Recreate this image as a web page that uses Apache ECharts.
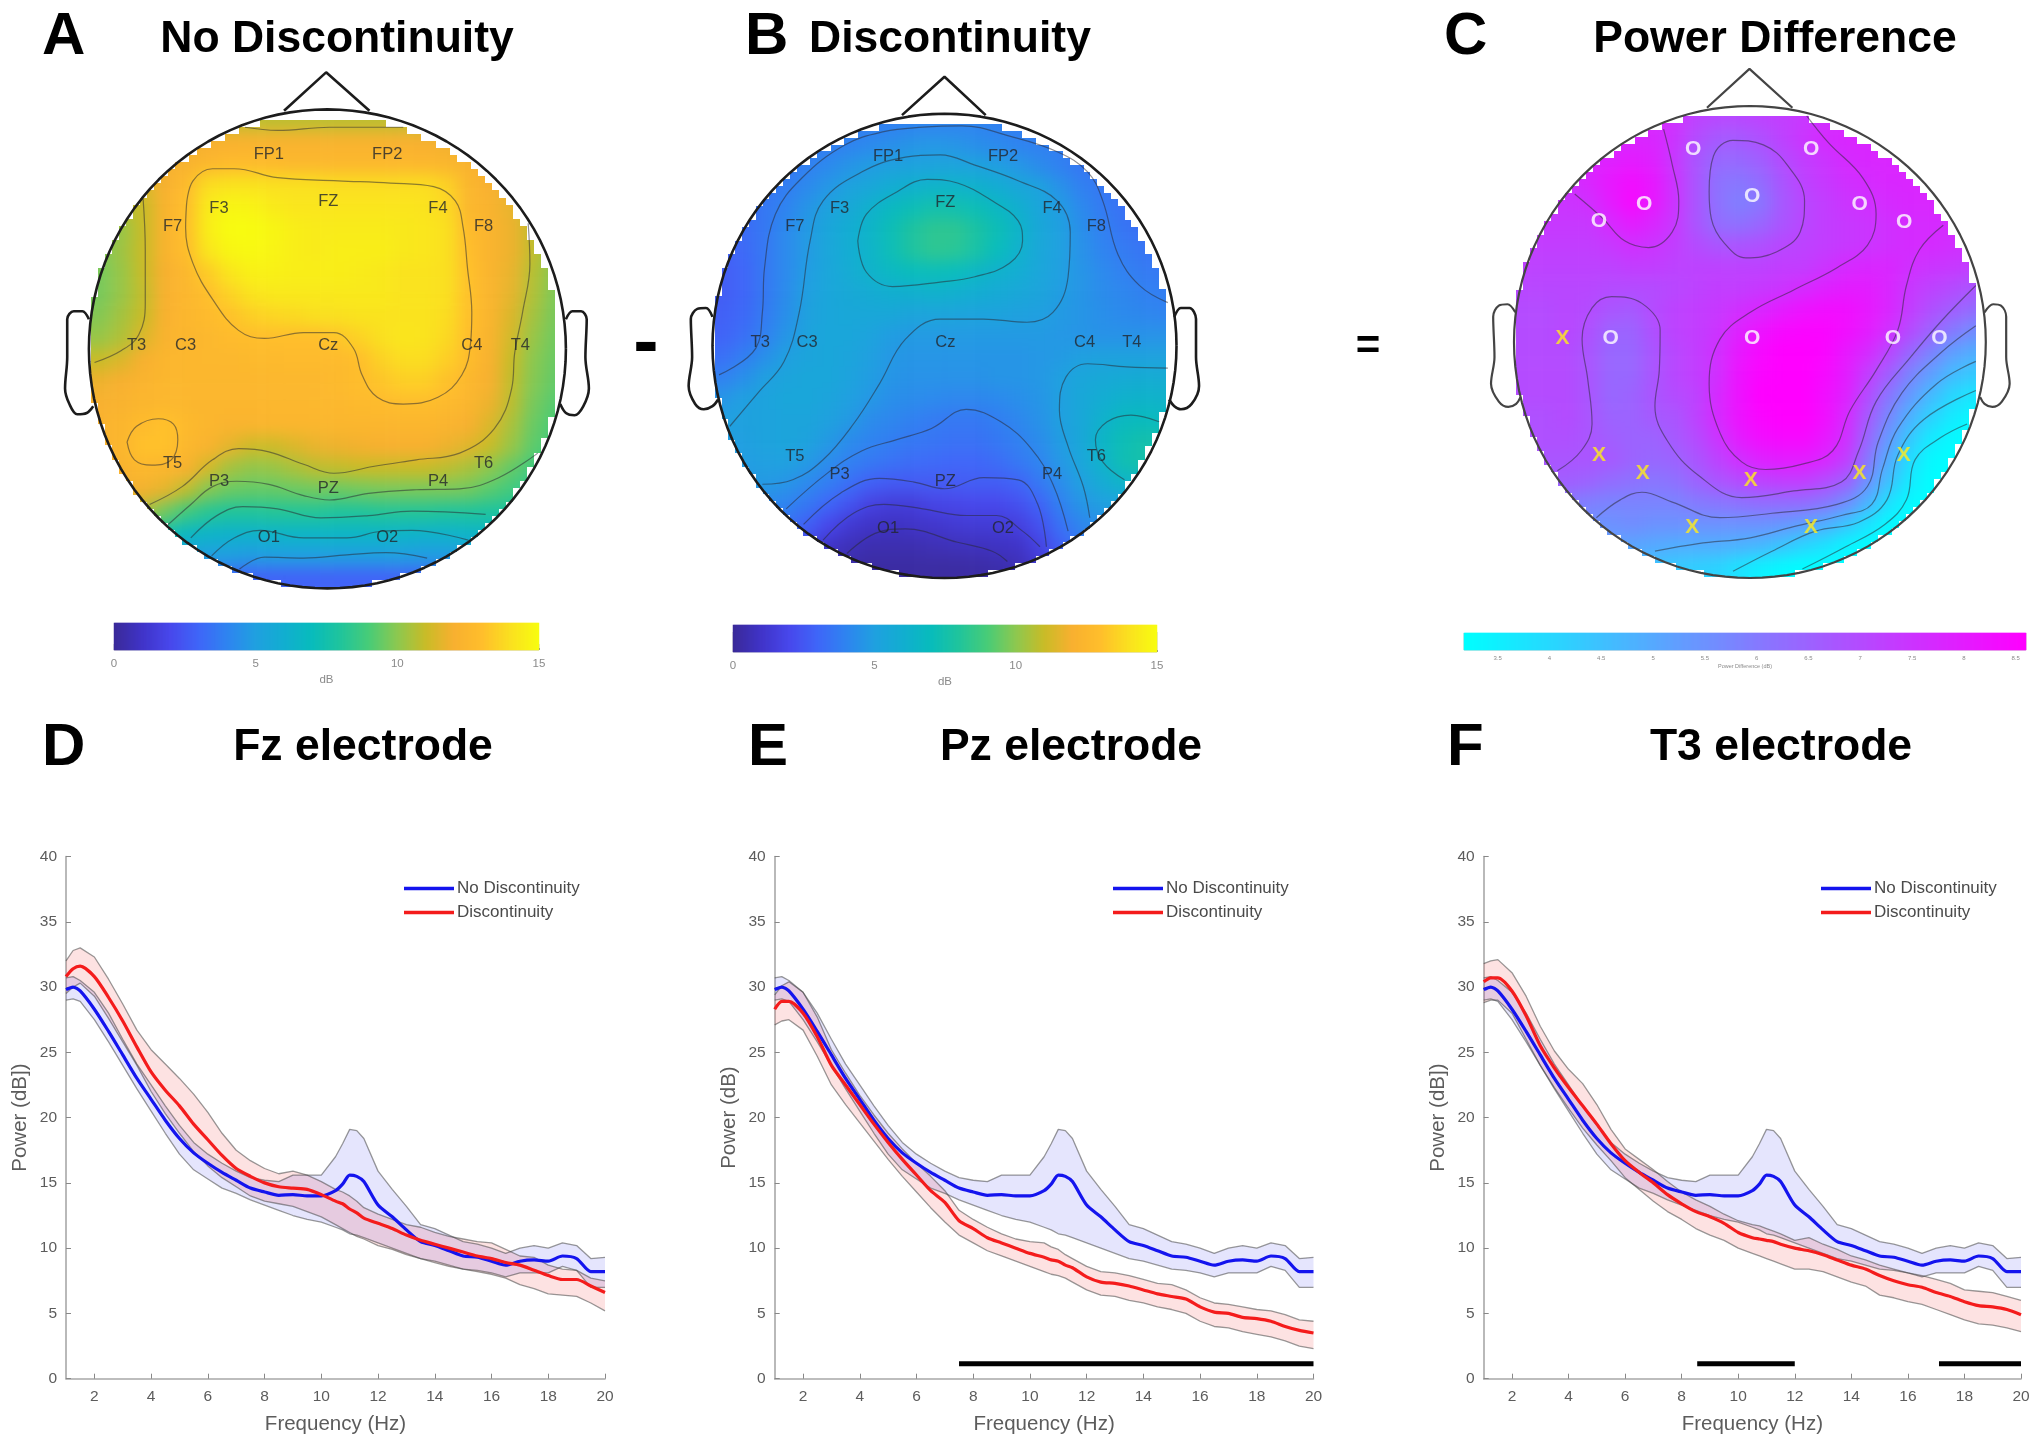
<!DOCTYPE html>
<html><head><meta charset="utf-8"><style>html,body{margin:0;padding:0;background:#fff}#c{width:2040px;height:1441px}</style>
<script src="https://cdn.jsdelivr.net/npm/echarts@6/dist/echarts.min.js"></script></head><body><div id="c"></div><script>
// ---------- spectra ----------
const freq=[1,1.25,1.5,2,2.5,3,3.5,4,4.5,5,5.5,6,6.5,7,7.5,8,8.5,9,9.5,10,10.5,10.75,11,11.25,11.5,12,12.5,13,13.5,14,14.5,15,15.5,16,16.5,17,17.5,18,18.5,19,19.5,20];
const noDiscMean=[29.8,30,29.7,28.3,26.6,24.8,23,21.4,19.8,18.4,17.3,16.5,15.8,15.2,14.6,14.3,14.05,14.1,14,14,14.4,14.9,15.6,15.5,15.1,13.3,12.4,11.4,10.5,10.2,9.8,9.4,9.3,9,8.7,9,9.1,9,9.4,9.2,8.2,8.2];
const noDiscUpper=[30.7,30.8,30.5,29.6,28,26,24.1,22.5,20.9,19.4,18.1,17.2,16.5,15.9,15.4,15.2,15.1,15.6,15.6,15.6,17,18,19.1,19,18.4,15.9,14.5,13.2,11.8,11.5,11,10.5,10.3,10,9.6,10,10.2,10,10.4,10.2,9.2,9.3];
const noDiscLower=[29,29.1,28.9,27.5,25.8,24,22.2,20.5,18.8,17.2,16,15.3,14.6,14.2,13.7,13.3,12.9,12.5,12.2,12,11.6,11.4,11.1,11,10.8,10.4,10,9.6,9.2,9,8.7,8.4,8.3,8.1,7.8,8.1,8.1,8.1,8.6,8.3,7,7];
const fzMean=[30.8,31.4,31.6,30.8,29.2,27.4,25.4,23.5,22.1,20.9,19.5,18.3,17.1,16.1,15.5,15,14.7,14.6,14.5,14.1,13.6,13.4,13,12.7,12.3,11.9,11.5,11,10.6,10.3,10,9.7,9.4,9.2,8.9,8.7,8.3,7.9,7.6,7.6,7.1,6.6];
const fzUpper=[32,32.8,33,32.3,30.6,28.7,26.7,25.2,24.1,23,21.8,20.4,18.8,17.5,16.7,16.1,15.7,15.9,15.6,15.1,14.5,14.3,14,13.6,13.1,12.6,12.2,11.8,11.6,11.2,10.9,10.7,10.5,10.4,9.9,9.4,9.3,8.7,8.4,8.3,7.7,7.5];
const fzLower=[29.5,30,30.3,29.3,27.6,25.8,24,22,20.3,18.8,17.4,16.3,15.4,14.7,14,13.6,13.4,13.2,12.8,12.4,11.8,11.5,11.2,10.9,10.7,10.2,9.9,9.5,9.2,8.9,8.6,8.4,8.2,8,7.7,7.2,6.9,6.5,6.4,6.3,5.8,5.2];
const pzMean=[28.3,28.9,28.9,28,26.2,24,22.5,21,19.5,18.1,16.8,15.6,14.4,13.5,12.1,11.5,10.8,10.4,10,9.6,9.3,9.1,9,8.7,8.5,7.8,7.4,7.3,7.1,6.8,6.5,6.3,6.1,5.5,5.1,5,4.7,4.6,4.4,4,3.7,3.5];
const pzUpper=[29.4,30.1,30.4,29.6,27.7,25.2,23.4,21.7,20.2,18.8,17.6,16.5,15.5,14.4,12.9,12.2,11.6,11.1,10.7,10.5,10.4,10.1,9.9,9.5,9.2,8.6,8.2,8.1,7.9,7.6,7.3,7.2,6.8,6.2,5.8,5.7,5.5,5.3,5.2,4.9,4.5,4.4];
const pzLower=[27.1,27.4,27.5,26.7,24.7,22.5,21,19.6,18.2,16.8,15.5,14.3,13.1,12,11,10.4,9.8,9.4,9,8.6,8.2,8,7.9,7.7,7.4,6.8,6.4,6.3,6,5.8,5.5,5.3,5,4.4,4,3.9,3.6,3.4,3.2,2.9,2.5,2.3];
const t3Mean=[30.4,30.7,30.7,29.7,27.8,25.5,23.8,22.3,20.9,19.5,18,16.7,15.8,15,14.1,13.4,12.8,12.4,11.9,11.2,10.8,10.7,10.6,10.5,10.3,10,9.8,9.5,9.1,8.7,8.4,7.9,7.5,7.2,7,6.6,6.3,5.9,5.6,5.5,5.3,4.9];
const t3Upper=[31.8,32,32.1,31.1,29.3,27,25.1,23.7,22.6,21,19.1,17.6,16.8,16,15.1,14.3,13.7,13.2,12.6,12.1,11.8,11.7,11.5,11.3,11.1,10.6,10.8,10.3,9.9,9.4,9.1,8.7,8.4,8.1,7.9,7.6,7.3,6.8,6.7,6.6,6.3,6];
const t3Lower=[28.8,29,29,28,26,24,22.3,20.7,19.2,17.9,16.7,15.4,14.5,13.6,12.8,12.2,11.5,11,10.6,10,9.6,9.4,9.2,9,8.8,8.4,8.4,8.2,7.8,7.4,7.1,6.4,6.2,5.9,5.7,5.3,4.9,4.5,4.2,4.1,3.9,3.6];
const pzSignificant=[[7.5,20]];
const t3Significant=[[8.55,12],[17.1,20]];
const xTicks=[2,4,6,8,10,12,14,16,18,20];
// ---------- topographic maps: values on a 22 x 22 lattice (dB) ----------
const mapA=[
[10,10.2,10.4,10.6,10.8,10.9,10.9,10.8,10.8,10.8,10.8,10.8,10.8,10.8,10.8,10.8,10.8,10.8,10.7,10.6,10.4,10.2],
[11,11.2,11.4,11.6,11.8,12,12.1,12.2,12.2,12.2,12.2,12.2,12.2,12.2,12.1,12,11.9,11.7,11.5,11.3,11,10.8],
[11,11.2,11.6,11.9,12.2,12.5,12.8,12.8,12.7,12.6,12.6,12.6,12.6,12.6,12.6,12.5,12.4,12.2,12,11.7,11.3,11],
[10.8,11,11.3,12,12.8,13.9,14.1,14.1,14,14,14,13.9,13.9,13.9,13.9,13.9,13.6,12.5,12,11.7,11.1,10.8],
[10.4,10.7,11,12.2,13,14.4,14.8,14.7,14.4,14.2,14.2,14.2,14.2,14.2,14.2,14.1,13.8,12.6,12.2,11.7,10.9,10.4],
[9.9,10.2,11,12.2,13,14.5,15,15,14.8,14.5,14.4,14.4,14.4,14.4,14.3,14.2,14,12.8,12.3,11.8,10.9,10.1],
[9.8,10.3,11,12.2,12.9,14.2,14.8,14.9,14.7,14.5,14.4,14.5,14.5,14.5,14.3,14.2,14,13,12.3,11.8,10.9,10],
[9.7,10.2,11,12,12.6,13.4,14.2,14.6,14.6,14.5,14.5,14.5,14.4,14.3,14.1,14.1,14,13.1,12.3,11.7,10.7,9.9],
[9.7,10.2,10.9,12,12.5,13,13.6,14.1,14.3,14.3,14.3,14.3,14.3,14.3,14.1,14.1,14,13.1,12.3,11.6,10.6,9.8],
[9.9,10.4,11,12.1,12.5,12.8,13.1,13.5,13.7,13.8,14,14,14.1,14.1,14.1,14.1,13.9,13.1,12.3,11.4,10.4,9.7],
[10.2,10.6,11.4,12.2,12.4,12.6,12.8,12.9,13,13,13,13.2,13.6,14,14.2,14.1,13.8,13,12.2,11.2,10.2,9.6],
[11,11.4,12,12.4,12.5,12.6,12.6,12.7,12.7,12.8,12.8,12.8,13,13.6,13.9,13.9,13.5,12.9,12.1,11,10,9.5],
[11.8,12,12.3,12.5,12.5,12.5,12.5,12.5,12.6,12.6,12.6,12.7,12.9,13.2,13.5,13.5,13.1,12.6,12,10.9,9.9,9.4],
[12.1,12.2,12.4,12.5,12.5,12.4,12.4,12.4,12.5,12.5,12.6,12.6,12.7,12.8,12.9,12.9,12.7,12.4,11.8,10.8,9.7,9.2],
[12.2,12.4,12.8,13.1,12.7,12.4,12.3,12.3,12.4,12.4,12.4,12.4,12.4,12.4,12.4,12.4,12.3,12,11.4,10.5,9.5,9],
[12.2,12.4,13.1,13.1,12.6,12.2,11.6,11.1,11.1,11.4,11.7,11.8,11.9,12,12,12,11.8,11.5,11,10.2,9.3,8.9],
[12.1,12.2,12.6,12.4,12.1,11.2,10.4,10.1,10.2,10.5,10.8,10.9,11,11,11,11,10.8,10.5,10,9.4,8.8,8.4],
[11.8,11.9,11.9,11.6,10.8,9.9,9.5,9.4,9.4,9.5,9.6,9.5,9.6,9.7,9.7,9.7,9.7,9.6,9.2,8.8,8.3,8],
[11,11,10.6,9.6,8.8,8.2,8,8,8.1,8.1,8.1,8,8,8.1,8.1,8.1,8,8,7.9,7.8,7.6,7.5],
[10,9.5,8.5,7.4,6.7,6.4,6.3,6.3,6.4,6.5,6.5,6.5,6.5,6.5,6.4,6.3,6.3,6.4,6.5,6.6,6.6,6.6],
[8,7,6,5.4,5.1,5,5,4.9,5,5,5,5,5,5,5,4.9,4.9,5,5.2,5.5,5.8,6],
[6,5,4.5,4,3.6,3.3,3,2.9,2.9,2.9,2.9,2.9,2.9,2.9,2.9,2.9,3,3.3,4,4.5,5,5.5]];
const mapB=[
[3.2,3.3,3.4,3.4,3.5,3.6,3.7,3.8,3.9,4,4,4,4,3.9,3.8,3.7,3.6,3.5,3.4,3.3,3.2,3.2],
[3.2,3.3,3.4,3.5,3.6,3.8,4,4.2,4.4,4.6,4.7,4.6,4.4,4.2,4,3.9,3.8,3.6,3.5,3.4,3.3,3.2],
[3.1,3.2,3.4,3.6,3.9,4.2,4.6,4.9,5.1,5.2,5.3,5.3,5.2,5,4.7,4.3,3.9,3.6,3.5,3.4,3.3,3.2],
[3,3.2,3.5,3.8,4.2,4.7,5.2,5.5,5.9,6.2,6.4,6.4,6.2,5.9,5.5,5.2,4.5,3.9,3.6,3.4,3.3,3.2],
[2.9,3.2,3.6,4,4.6,5.2,5.6,6.2,6.8,7.2,7.5,7.4,7.2,6.7,6.1,5.4,4.9,4.2,3.7,3.4,3.3,3.2],
[2.9,3.2,3.6,4.2,4.8,5.4,5.9,6.4,7.2,7.9,8.3,8.3,7.8,7.2,6.4,5.5,5,4.4,3.9,3.5,3.3,3.3],
[2.8,3.1,3.6,4.2,4.8,5.4,5.9,6.4,7.2,7.9,8.3,8.2,7.7,7,6.2,5.5,5,4.5,4,3.7,3.5,3.4],
[2.7,3,3.6,4.2,4.9,5.4,5.8,6.3,6.7,7,7.1,7,6.6,6.2,5.9,5.4,5,4.6,4.2,3.9,3.7,3.6],
[2.7,3,3.6,4.3,5,5.4,5.6,5.8,6,6.1,6.2,6.1,5.9,5.7,5.5,5.3,4.9,4.6,4.3,4.1,3.9,3.8],
[2.8,3.1,3.7,4.4,5.1,5.4,5.5,5.5,5.5,5.3,5.3,5.3,5.2,5.2,5.1,5,4.8,4.6,4.4,4.2,4.1,4],
[2.9,3.3,3.9,4.6,5.2,5.4,5.4,5.2,4.9,4.8,4.8,4.8,4.8,4.8,4.8,4.8,4.7,4.6,4.5,4.5,4.5,4.5],
[3.3,3.8,4.4,5,5.3,5.4,5.3,5,4.7,4.6,4.6,4.6,4.6,4.6,4.6,4.7,4.8,5,5.1,5.1,5.1,5.1],
[3.9,4.4,5,5.3,5.4,5.4,5.2,4.9,4.6,4.5,4.5,4.5,4.5,4.6,4.6,4.7,5,5.4,5.6,5.7,5.8,5.8],
[4.6,5,5.2,5.4,5.4,5.3,5,4.7,4.4,4.3,4.2,4.1,4.1,4.2,4.4,4.6,5,5.5,5.9,6.2,6.3,6.3],
[5,5.1,5.2,5.3,5.3,5.1,4.8,4.3,4.1,3.9,3.7,3.6,3.6,3.8,4.1,4.5,5,5.5,6.2,6.8,6.9,6.8],
[4.9,5,5.2,5.3,5.2,4.8,4.3,4,3.8,3.6,3.5,3.4,3.4,3.6,3.9,4.3,4.9,5.5,6.5,7.2,7.5,7.4],
[4.8,4.9,5,5.1,4.8,4.3,3.9,3.6,3.4,3.2,3.1,3,3,3.2,3.6,4,4.7,5.4,6.3,7.3,7.6,7.5],
[4.6,4.7,4.8,4.6,4.2,3.8,3.3,2.8,2.6,2.6,2.6,2.6,2.7,2.7,2.9,3.6,4.3,5,5.8,6.4,6.4,6.3],
[4.2,4.2,4.2,4,3.6,3,2.4,1.7,1.5,1.5,1.8,1.9,2,2,2.3,2.9,3.9,4.6,5,5.2,5.2,5.2],
[3.8,3.8,3.7,3.4,2.8,2,1.3,1,0.9,1,1.1,1.3,1.4,1.4,1.6,2.3,3.4,4.1,4.4,4.5,4.5,4.5],
[3.5,3.4,3.2,2.6,1.8,1,0.7,0.5,0.5,0.5,0.6,0.7,0.8,0.9,1,1.7,2.8,3.6,4,4.2,4.2,4.2],
[3,2.8,2.4,1.8,1,0.5,0.3,0.2,0.2,0.2,0.2,0.2,0.3,0.4,0.6,1.2,2.2,3,3.6,3.8,3.9,4]];
const mapC=[
[7.5,7.5,7.5,7.5,7.6,7.7,7.7,7.6,7.2,7.1,7.1,7.2,7.3,7.4,7.6,7.7,7.8,7.8,7.8,7.8,7.8,7.8],
[7.6,7.6,7.6,7.7,7.7,7.8,7.8,7.5,7,6.7,6.7,6.9,7.2,7.5,7.7,7.8,7.8,7.8,7.8,7.8,7.8,7.8],
[7.6,7.6,7.7,7.8,7.9,8,7.9,7.4,6.8,6.4,6.4,6.6,7,7.3,7.5,7.7,7.8,7.8,7.8,7.8,7.8,7.8],
[7.6,7.6,7.6,7.8,8.1,8.3,8.1,7.5,6.8,6.2,6.1,6.3,6.8,7.2,7.4,7.6,7.7,7.8,7.8,7.8,7.8,7.8],
[7.5,7.5,7.5,7.6,8,8.4,8.1,7.5,6.8,6.2,5.9,6.1,6.7,7.1,7.3,7.5,7.6,7.7,7.8,7.8,7.8,7.7],
[7.4,7.4,7.4,7.4,7.7,8,7.8,7.4,6.8,6.3,6.2,6.4,6.8,7.1,7.3,7.4,7.5,7.6,7.7,7.7,7.7,7.7],
[7.3,7.3,7.3,7.3,7.4,7.6,7.5,7.3,7,6.8,6.8,6.9,7.1,7.2,7.3,7.4,7.5,7.6,7.7,7.7,7.6,7.6],
[7.2,7.2,7.2,7.2,7.2,7.3,7.3,7.2,7.2,7.2,7.2,7.2,7.3,7.3,7.5,7.7,7.8,7.8,7.6,7.5,7.4,7.3],
[7.1,7.1,7.1,7.1,7,7,7,7.1,7.2,7.3,7.3,7.4,7.5,7.7,7.9,8,8,7.8,7.4,7.2,7,6.8],
[7,7,7.1,7,6.8,6.7,7,7.2,7.3,7.4,7.6,7.8,8,8.2,8.3,8.3,8.1,7.8,7.3,6.9,6.6,6.3],
[7,7,7.1,6.9,6.5,6.5,6.9,7.2,7.3,7.5,7.9,8.2,8.4,8.5,8.5,8.3,8,7.6,7,6.5,6,5.6],
[7,7,7,6.8,6.4,6.4,6.8,7.1,7.3,7.6,8.1,8.4,8.6,8.6,8.5,8.1,7.7,7.1,6.4,5.8,5.2,4.9],
[7,7,7,6.8,6.4,6.4,6.8,7.1,7.3,7.6,8.2,8.5,8.6,8.6,8.4,8,7.3,6.6,5.8,5.2,4.6,4.3],
[7,7,7,6.8,6.4,6.5,6.8,7,7.2,7.7,8.2,8.6,8.6,8.6,8.3,7.9,7,6.1,5.3,4.6,4,3.7],
[6.9,6.9,7,6.8,6.5,6.5,6.7,6.8,7.2,7.7,8.2,8.5,8.6,8.6,8.3,7.7,6.7,5.7,4.8,4.1,3.6,3.3],
[6.9,6.9,6.9,6.8,6.6,6.5,6.5,6.7,7,7.5,8,8.3,8.4,8.4,8.1,7.6,6.4,5.3,4.3,3.6,3.3,3.2],
[6.8,6.8,6.8,6.8,6.7,6.5,6.4,6.5,6.8,7.2,7.6,7.9,8,8,7.8,7.3,6.1,4.9,3.9,3.3,3.2,3.2],
[6.6,6.6,6.6,6.5,6.3,6.2,6.1,6.2,6.5,6.8,7,7.2,7.3,7.3,7,6.6,5.5,4.5,3.6,3.2,3.2,3.2],
[6,6,6,5.9,5.8,5.8,5.8,5.8,6,6.1,6.2,6.3,6.3,6.3,6.1,5.6,4.8,3.8,3.3,3.2,3.2,3.2],
[5.5,5.5,5.5,5.5,5.5,5.6,5.5,5.5,5.5,5.5,5.5,5.5,5.4,5.2,4.9,4.4,3.8,3.3,3.2,3.2,3.2,3.2],
[5.2,5.2,5.2,5.2,5.2,5.1,5,4.9,4.9,4.9,4.8,4.7,4.4,4.1,3.8,3.4,3.2,3.2,3.2,3.2,3.2,3.2],
[5,5,5,5,5,4.6,4.4,4.3,4.2,4.1,3.8,3.5,3.3,3.2,3.2,3.2,3.2,3.2,3.2,3.2,3.2,3.2]];
// ---------- contour lines, in each map's own coordinate units ----------
const contoursA=[
[[430,460],[445,405],[490,378],[540,378],[640,398],[780,405],[900,410],[1000,418],[1050,450],[1068,510],[1078,600],[1088,700],[1085,770],[1065,840],[1010,890],[930,905],[870,890],[835,840],[815,780],[770,745],[700,745],[610,758],[550,740],[490,670],[445,590],[428,510],[430,460]],
[[293,990],[315,955],[365,938],[400,950],[410,985],[395,1030],[350,1042],[310,1030],[293,990]],
[[330,445],[335,560],[335,680],[320,750],[280,785],[218,812]],
[[1218,500],[1222,590],[1205,700],[1187,790],[1180,870],[1140,960],[1060,1015],[960,1030],[860,1045],[770,1060],[700,1040],[620,1012],[550,1005],[490,1030],[420,1090],[345,1130]],
[[388,1175],[440,1130],[490,1090],[545,1078],[620,1085],[700,1110],[760,1120],[850,1105],[960,1097],[1060,1095],[1150,1070],[1240,1015]],
[[440,1205],[500,1155],[560,1135],[640,1140],[740,1160],[850,1155],[950,1145],[1120,1152]],
[[488,1245],[540,1205],[600,1188],[700,1205],[800,1205],[880,1190],[950,1188],[1080,1210]],
[[552,1275],[610,1248],[700,1250],[800,1243],[890,1238],[985,1250]],
[[565,285],[640,292],[760,285],[930,285]]];
const contoursB=[
[[90,840],[175,780],[190,700],[195,600],[220,480],[280,400],[380,325],[470,295],[560,285],[650,282],[760,305],[870,340],[940,385],[975,450],[1010,570],[1060,640],[1125,678]],
[[115,955],[180,880],[240,810],[275,700],[300,540],[330,450],[420,385],[520,352],[600,347],[680,370],[780,405],[870,450],[900,520],[895,620],[860,700],[800,722],[700,715],[600,715],[520,760],[460,860],[400,950],[330,1030],[260,1075],[190,1085]],
[[410,540],[430,480],[500,430],[570,402],[640,410],[720,450],[780,495],[790,540],[760,590],[680,620],[600,632],[490,642],[430,610],[410,540]],
[[245,1140],[340,1060],[420,1010],[500,985],[580,960],[660,917],[740,945],[810,1005],[860,1085],[895,1190]],
[[1125,825],[1030,822],[940,815],[890,845],[875,920],[895,1000],[930,1090],[945,1160]],
[[1105,945],[1040,930],[985,945],[958,985],[975,1035],[1025,1075]],
[[285,1175],[370,1105],[460,1072],[540,1080],[610,1095],[700,1070],[780,1075],[825,1130],[845,1225]],
[[330,1210],[400,1150],[470,1130],[560,1140],[660,1155],[730,1155],[790,1190],[830,1225]],
[[385,1240],[450,1195],[520,1185],[640,1215],[720,1235],[755,1258]]];
const contoursC=[
[[495,435],[560,490],[610,540],[665,555],[720,520],[735,450],[720,370],[700,290]],
[[805,430],[815,350],[860,315],[930,325],[985,370],[1025,450],[1015,520],[960,565],[890,578],[840,545],[810,490],[805,430]],
[[1030,260],[1080,320],[1160,400],[1190,480],[1170,550],[1100,600],[1000,650],[900,700],[830,760],[805,860],[830,970],[880,1035],[935,1052],[1020,1040],[1090,1010],[1130,920],[1190,830],[1240,740],[1260,640],[1290,560],[1345,505]],
[[455,1055],[510,1010],[535,950],[525,850],[512,760],[535,690],[580,665],[650,680],[692,740],[690,830],[680,910],[710,990],[780,1065],[880,1115],[1000,1100],[1110,1080],[1150,1010],[1190,900],[1270,800],[1340,720],[1420,640]],
[[545,1160],[600,1120],[650,1103],[720,1125],[830,1160],[950,1150],[1100,1130],[1170,1090],[1195,990],[1250,880],[1340,790],[1420,730]],
[[680,1235],[780,1218],[900,1205],[1000,1180],[1110,1155],[1180,1130],[1205,1050],[1240,960],[1330,860],[1420,810]],
[[860,1280],[950,1235],[1050,1190],[1150,1170],[1215,1120],[1240,1020],[1300,940],[1420,875]],
[[1020,1275],[1120,1225],[1210,1175],[1260,1120],[1280,1030],[1340,980],[1400,950]]];
// ---------- electrodes ----------
const electrodeNamesA=['FP1','FP2','F3','FZ','F4','F7','F8','T3','C3','Cz','C4','T4','T5','P3','PZ','P4','T6','O1','O2'];
const electrodesA=[[620,345],[893,345],[505,467],[757,452],[1010,467],[398,508],[1115,508],[315,773],[428,773],[757,773],[1088,773],[1200,773],[398,1038],[505,1078],[757,1095],[1010,1078],[1115,1038],[620,1203],[893,1203]];
const electrodesB=[[480,350],[745,350],[368,468],[612,453],[858,468],[265,508],[960,508],[185,767],[293,767],[612,767],[933,767],[1042,767],[265,1022],[368,1062],[612,1078],[858,1062],[960,1022],[480,1183],[745,1183]];
const circlesC=[[768,335],[1040,335],[655,457],[904,440],[1152,457],[551,495],[1255,498],[578,758],[904,758],[1229,758],[1336,758]];
const crossesC=[[467,758],[551,1020],[652,1060],[901,1076],[1152,1060],[1254,1020],[766,1181],[1040,1181]];
// ---------- head outlines ----------
const noseA=[[655,248],[752,162],[852,248]], noseB=[[512,258],[610,172],[705,258]], noseC=[[800,242],[898,155],[997,242]];
const earsA=[[[205,715],[190,697],[170,697],[155,715],[155,800],[150,870],[160,905],[178,928],[200,925],[215,910]],[[1305,715],[1320,697],[1340,697],[1353,715],[1350,800],[1358,870],[1345,910],[1325,930],[1305,925],[1292,905]]];
const earsB=[[[75,710],[60,690],[40,692],[25,715],[28,800],[20,865],[35,905],[55,917],[75,910],[88,895]],[[1140,710],[1155,690],[1175,690],[1190,715],[1190,800],[1197,865],[1180,905],[1155,917],[1140,910],[1128,895]]];
const earsC=[[[358,700],[340,682],[320,685],[307,710],[310,800],[302,860],[320,900],[342,912],[360,905],[370,890]],[[1440,700],[1460,682],[1478,685],[1490,710],[1490,800],[1498,860],[1480,900],[1458,912],[1440,905],[1430,890]]];
// ---------- colours ----------
const parula=['#3a2a98','#4034c8','#4848ec','#3f66f8','#2f84f0','#20a0e0','#12aed0','#08bcbc','#20c49c','#48cc78','#8cc850','#c8bc28','#f8b030','#ffbe2c','#fae020','#f8fc10'];
const cool=['#00ffff','#ff00ff'];
const FONT='Liberation Sans';

const opt={animation:false,backgroundColor:'transparent',textStyle:{fontFamily:FONT},
  title:[],grid:[],xAxis:[],yAxis:[],series:[],legend:[],visualMap:[]};
function addGrid(l,t,w,h,extra){opt.grid.push(Object.assign({left:l,top:t,width:w,height:h,containLabel:false},extra||{}));return opt.grid.length-1;}
function hiddenCat(n,grid,inv){return {type:'category',gridIndex:grid,show:false,inverse:!!inv,data:Array.from({length:n},(_,i)=>i)};}

const parulaSeries=[],coolSeries=[];
function addMap(cfg){
  const {ux,uy,px,M,heat}=cfg;
  // heatmap, one lattice step of edge padding around the head
  const cw=px.w/22,ch=px.h/22;
  const g=addGrid(px.l-cw,px.t-ch,cw*24,ch*24);
  const xi=opt.xAxis.length; opt.xAxis.push(hiddenCat(24,g));
  const yi=opt.yAxis.length; opt.yAxis.push(hiddenCat(24,g,true));
  const cl=v=>Math.max(0,Math.min(21,v)), d=[];
  for(let r=0;r<24;r++)for(let c=0;c<24;c++)d.push([c,r,M[cl(r-1)][cl(c-1)]]);
  cfg.list.push(opt.series.length);
  opt.series.push({type:'heatmap',xAxisIndex:xi,yAxisIndex:yi,zlevel:-1,data:d,silent:true,itemStyle:{borderWidth:0},emphasis:{disabled:true}});
  // overlay in map units (with margin so that ears and nose stay inside the axes)
  const E=120,kx=px.w/(ux[1]-ux[0]),ky=px.h/(uy[1]-uy[0]);
  const o=addGrid(px.l-E*kx,px.t-E*ky,px.w+2*E*kx,px.h+2*E*ky);
  const oxi=opt.xAxis.length; opt.xAxis.push({type:'value',gridIndex:o,show:false,min:ux[0]-E,max:ux[1]+E});
  const oyi=opt.yAxis.length; opt.yAxis.push({type:'value',gridIndex:o,show:false,min:uy[0]-E,max:uy[1]+E,inverse:true});
  // white mask outside the sampled head area, as stair-stepped runs
  const cx=(ux[0]+ux[1])/2,cy=(uy[0]+uy[1])/2,rx=(ux[1]-ux[0])/2,ry=(uy[1]-uy[0])/2;
  const hx=(heat.x[0]+heat.x[1])/2,hy=(heat.y[0]+heat.y[1])/2,hrx=(heat.x[1]-heat.x[0])/2,hry=(heat.y[1]-heat.y[0])/2;
  const sx=(heat.x[1]-heat.x[0])/66,sy=(heat.y[1]-heat.y[0])/66,runs=[];
  for(let j=-8;j<74;j++){let st=null;
    for(let i=-8;i<=74;i++){
      const mx=heat.x[0]+(i+.5)*sx,my=heat.y[0]+(j+.5)*sy;
      const inside=i>=0&&i<66&&j>=0&&j<66&&((mx-cx)/rx)**2+((my-cy)/ry)**2<1&&((mx-hx)/hrx)**2+((my-hy)/hry)**2<1.04;
      const out=!inside&&i<74;
      if(out&&st===null)st=i;
      if(!out&&st!==null){runs.push([heat.x[0]+st*sx,heat.y[0]+j*sy,heat.x[0]+i*sx,heat.y[0]+(j+1)*sy]);st=null;}
    }}
  opt.series.push({type:'custom',xAxisIndex:oxi,yAxisIndex:oyi,silent:true,z:1,clip:false,data:runs,
    renderItem:(p,api)=>{const a=api.coord([api.value(0),api.value(1)]),b=api.coord([api.value(2),api.value(3)]);
      const x0=Math.round(a[0]),y0=Math.round(a[1]);
      return {type:'rect',shape:{x:x0,y:y0,width:Math.round(b[0])-x0,height:Math.round(b[1])-y0},style:{fill:'#fff'}};}});
  const ln=(data,w,col,smooth,z)=>opt.series.push({type:'line',xAxisIndex:oxi,yAxisIndex:oyi,data,symbol:'none',clip:false,silent:true,smooth,z:z,
    lineStyle:{color:col,width:w}});
  cfg.contours.forEach(c=>ln(c,1.2,'rgba(40,40,50,.52)',0.4,3));
  // head
  const circ=[];for(let a=0;a<=120;a++){const t=a/120*2*Math.PI;circ.push([cx+rx*Math.cos(t),cy+ry*Math.sin(t)]);}
  ln(circ,cfg.lw,cfg.lc,false,4); ln(cfg.nose,cfg.lw,cfg.lc,false,4);
  cfg.ears.forEach(e=>ln(e,cfg.lw,cfg.lc,0.35,4));
  const txt=(pts,names,col,size,weight)=>opt.series.push({type:'scatter',xAxisIndex:oxi,yAxisIndex:oyi,silent:true,z:5,symbolSize:1,itemStyle:{color:'transparent'},
    data:pts.map((p,i)=>({value:p,label:{formatter:names[i]}})),
    label:{show:true,position:'inside',color:col,fontSize:size,fontWeight:weight,fontFamily:FONT}});
  if(cfg.names)txt(cfg.elec,cfg.names,'#22262c',16.5,'normal');
  if(cfg.o){txt(cfg.o,cfg.o.map(()=>'O'),'#ffffff',21,'bold');txt(cfg.x,cfg.x.map(()=>'X'),'#ffec1a',21,'bold');}
}
addMap({ux:[205,1305],uy:[245,1318],px:{l:88.9,t:109.4,w:477,h:479},M:mapA,heat:{x:[210,1280],y:[268,1315]},contours:contoursA,nose:noseA,ears:earsA,lw:2.6,lc:'#1c1c1c',names:electrodeNamesA,elec:electrodesA,list:parulaSeries});
addMap({ux:[75,1145],uy:[255,1295],px:{l:712.5,t:113.8,w:464,h:464.2},M:mapB,heat:{x:[80,1120],y:[278,1292]},contours:contoursB,nose:noseB,ears:earsB,lw:2.6,lc:'#1c1c1c',names:electrodeNamesA,elec:electrodesB,list:parulaSeries});
addMap({ux:[355,1443],uy:[238,1295],px:{l:1514,t:106,w:471.8,h:472},M:mapC,heat:{x:[360,1420],y:[260,1292]},contours:contoursC,nose:noseC,ears:earsC,lw:2.2,lc:'#444',o:circlesC,x:crossesC,list:coolSeries});

// colour bars
function addBar(l,t,w,h,min,max,ticks,labelSize,labelGap,name,nameSize,nameGap,list){
  const g=addGrid(l,t,w,h,{show:true,borderColor:'#c4c4c4',borderWidth:1,backgroundColor:'transparent'});
  const N=w,vals=Array.from({length:N},(_,i)=>[i,0,min+(max-min)*(i+.5)/N]);
  const xi=opt.xAxis.length; opt.xAxis.push(hiddenCat(N,g));
  const yi=opt.yAxis.length; opt.yAxis.push(hiddenCat(1,g));
  opt.xAxis.push({type:'value',gridIndex:g,position:'bottom',min,max,name,nameLocation:'middle',nameGap,
    nameTextStyle:{color:'#8a8a8a',fontSize:nameSize},
    axisLine:{show:false},splitLine:{show:false},
    axisTick:{show:true,inside:true,length:2,lineStyle:{color:'#8a8a8a'},customValues:ticks},
    axisLabel:{color:'#8a8a8a',fontSize:labelSize,margin:labelGap,customValues:ticks,hideOverlap:false,formatter:v=>String(v)}});
  list.push(opt.series.length);
  opt.series.push({type:'heatmap',xAxisIndex:xi,yAxisIndex:yi,data:vals,silent:true,itemStyle:{borderWidth:0},emphasis:{disabled:true}});
}
addBar(114,623,425,27,0,15,[0,5,10,15],11.5,8,'dB',11.5,24,parulaSeries);
addBar(733,625,424,27,0,15,[0,5,10,15],11.5,8,'dB',11.5,24,parulaSeries);
addBar(1464,633,562,17,3.175,8.6,[3.5,4,4.5,5,5.5,6,6.5,7,7.5,8,8.5],6,5,'Power Difference (dB)',5.5,13,coolSeries);
opt.visualMap=[
 {show:false,type:'continuous',min:0,max:15,dimension:2,seriesIndex:parulaSeries,inRange:{color:parula}},
 {show:false,type:'continuous',min:3.175,max:8.6,dimension:2,seriesIndex:coolSeries,inRange:{color:cool}}];

// spectra
function addSpectrum(l,w,yName,up,mean,lo,sig,legendLeft){
  const g=addGrid(l,856.5,w,522.2);
  const xi=opt.xAxis.length,yi=opt.yAxis.length;
  const axisCol='#a8a8a8',txtCol='#5c5c5c';
  opt.xAxis.push({type:'value',gridIndex:g,min:1,max:20,name:'Frequency (Hz)',nameLocation:'middle',nameGap:35,nameTextStyle:{color:txtCol,fontSize:20.5},
    axisLine:{lineStyle:{color:axisCol,width:1.6},onZero:false},splitLine:{show:false},
    axisTick:{inside:true,length:5,lineStyle:{color:'#888'},customValues:xTicks},
    axisLabel:{color:txtCol,fontSize:15.5,margin:10,customValues:xTicks,hideOverlap:false}});
  opt.yAxis.push({type:'value',gridIndex:g,min:0,max:40,interval:5,name:yName,nameLocation:'middle',nameGap:35,nameTextStyle:{color:txtCol,fontSize:20.5},
    axisLine:{show:true,lineStyle:{color:axisCol,width:1.6}},splitLine:{show:false},
    axisTick:{show:true,inside:true,length:5,lineStyle:{color:'#888'}},
    axisLabel:{color:txtCol,fontSize:15.5,margin:9}});
  const band=(u,lw,col)=>{
    const edge={color:'rgba(70,70,70,.55)',width:1.3};
    opt.series.push({type:'custom',xAxisIndex:xi,yAxisIndex:yi,silent:true,z:2,encode:{x:0,y:[1,2]},data:freq.map((f,i)=>[f,u[i],lw[i]]),
      renderItem:(p,api)=>{ if(p.dataIndex!==0)return;
        const pts=freq.map((f,i)=>api.coord([f,u[i]])).concat(freq.map((f,i)=>api.coord([f,lw[i]])).reverse());
        return {type:'polygon',shape:{points:pts},style:{fill:col,stroke:'none'}};}});
    [u,lw].forEach(a=>opt.series.push({type:'line',xAxisIndex:xi,yAxisIndex:yi,symbol:'none',silent:true,lineStyle:edge,z:2,data:freq.map((f,i)=>[f,a[i]])}));
  };
  band(noDiscUpper,noDiscLower,'rgba(30,30,235,.115)');
  band(up,lo,'rgba(240,20,20,.125)');
  const main=(name,data,col)=>opt.series.push({type:'line',name,xAxisIndex:xi,yAxisIndex:yi,symbol:'none',silent:true,smooth:.25,z:3,lineStyle:{color:col,width:3.2},itemStyle:{color:col},data:freq.map((f,i)=>[f,data[i]])});
  main('No Discontinuity',noDiscMean,'#1414ee');
  main('Discontinuity',mean,'#f41c1c');
  (sig||[]).forEach(s=>opt.series.push({type:'line',xAxisIndex:xi,yAxisIndex:yi,symbol:'none',silent:true,z:4,lineStyle:{color:'#000',width:5,cap:'butt'},data:[[s[0],1.15],[s[1],1.15]]}));
  opt.legend.push({left:legendLeft,top:875,orient:'vertical',itemWidth:50,itemHeight:14,itemGap:7,icon:'path://M0,0H50V3.4H0Z',selectedMode:false,data:['No Discontinuity','Discontinuity'],textStyle:{color:'#4a4a4a',fontSize:17,fontFamily:FONT,padding:[0,0,0,-2]}});
}
addSpectrum(66,539,'Power (dB])',fzUpper,fzMean,fzLower,null,399);
addSpectrum(774.7,538.8,'Power (dB)',pzUpper,pzMean,pzLower,pzSignificant,1108);
addSpectrum(1483.7,537.3,'Power (dB])',t3Upper,t3Mean,t3Lower,t3Significant,1816);

// titles
const T=(text,x,y,size,align)=>opt.title.push({text,left:x,top:y,textAlign:align||'center',textStyle:{fontFamily:FONT,fontWeight:'bold',fontSize:size,color:'#000',lineHeight:size*1.15},padding:0});
T('A',42,3,60,'left');T('B',745,3,60,'left');T('C',1444,3,60,'left');
T('D',42,714,60,'left');T('E',748,714,60,'left');T('F',1447,714,60,'left');
T('No Discontinuity',337,14,44.5);T('Discontinuity',950,14,44.5);T('Power Difference',1775,14,44.5);
T('Fz electrode',363,722,44.5);T('Pz electrode',1071,722,44.5);T('T3 electrode',1781,722,44.5);
T('-',646,301,76);T('=',1368,323,42);

const chart=echarts.init(document.getElementById('c'),null,{renderer:'canvas'});
chart.setOption(opt);
function blurHeat(){const c=document.querySelector('canvas[data-zr-dom-id="zr_-1"]');if(c)c.style.filter='blur(8px)';}
blurHeat();chart.on('finished',blurHeat);
</script></body></html>
